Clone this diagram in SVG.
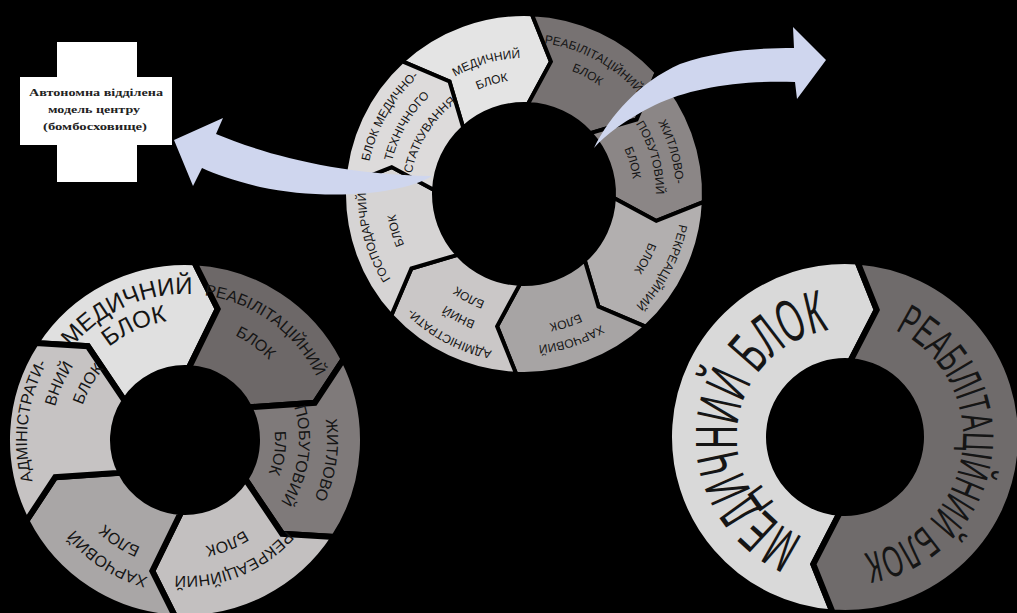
<svg xmlns="http://www.w3.org/2000/svg" width="1017" height="613" viewBox="0 0 1017 613">
<style>
.seg{stroke:#000;stroke-width:4;stroke-linejoin:miter}
.segw{stroke:#000;stroke-width:6;stroke-linejoin:miter}
.t{font-family:"Liberation Sans Narrow","Liberation Sans",Arial,sans-serif;fill:#151515;text-anchor:middle}
.f12{font-size:12px}
.f16{font-size:16px}
.f24{font-size:24px}
.arrow{fill:#cfd6ee}
.cap{font-family:"Liberation Serif","Times New Roman",serif;font-weight:bold;font-size:10px;fill:#222;text-anchor:middle}
</style>
<defs>
<path id="seg8" d="M0,-180 A180,180 0 0 1 127.28,-127.28 L109.22,-79.35 L63.64,-63.64 A90,90 0 0 0 0,-90 L21.12,-133.34 Z"/>
<path id="seg6" d="M0,-178 A178,178 0 0 1 154.15,-89 L127.64,-43.95 L62.35,-36 A72,72 0 0 0 0,-72 L25.76,-132.52 Z"/>
<path id="seg2" d="M0,-176 A176,176 0 0 1 0,176 L-22.75,129.01 L0,76 A76,76 0 0 0 0,-76 L22.75,-129.01 Z"/>
<path id="a90" d="M-90,0 A90,90 0 0 1 90,0"/>
<path id="a108" d="M-108,0 A108,108 0 0 1 108,0"/>
<path id="a110" d="M-110,0 A110,110 0 0 1 110,0"/>
<path id="a114" d="M-114,0 A114,114 0 0 1 114,0"/>
<path id="a116" d="M-116,0 A116,116 0 0 1 116,0"/>
<path id="a118" d="M-118,0 A118,118 0 0 1 118,0"/>
<path id="a120" d="M-120,0 A120,120 0 0 1 120,0"/>
<path id="a130" d="M-130,0 A130,130 0 0 1 130,0"/>
<path id="a132" d="M-132,0 A132,132 0 0 1 132,0"/>
<path id="a134" d="M-134,0 A134,134 0 0 1 134,0"/>
<path id="a136" d="M-136,0 A136,136 0 0 1 136,0"/>
<path id="a142" d="M-142,0 A142,142 0 0 1 142,0"/>
<path id="a146" d="M-146,0 A146,146 0 0 1 146,0"/>
<path id="a152" d="M-152,0 A152,152 0 0 1 152,0"/>
<path id="a158" d="M-158,0 A158,158 0 0 1 158,0"/>
<path id="a160" d="M-160,0 A160,160 0 0 1 160,0"/>
</defs>
<rect width="1017" height="613" fill="#000"/>

<!-- Top ring, centre (524,194) -->
<g id="top-ring">
<g id="top-medical">
<use href="#seg8" class="seg" fill="#e4e4e4" transform="translate(524,194) rotate(-42.5)"/>
<g transform="translate(524,194) rotate(-16)"><text class="t f12"><textPath href="#a136" startOffset="50%">МЕДИЧНИЙ</textPath></text><text class="t f12"><textPath href="#a114" startOffset="50%">БЛОК</textPath></text></g>
</g>
<g id="top-rehab">
<use href="#seg8" class="seg" fill="#777272" transform="translate(524,194) rotate(2.5)"/>
<g transform="translate(524,194) rotate(28)"><text class="t f12"><textPath href="#a152" startOffset="50%">РЕАБІЛІТАЦІЙНИЙ</textPath></text><text class="t f12"><textPath href="#a132" startOffset="50%">БЛОК</textPath></text></g>
</g>
<g id="top-housing">
<use href="#seg8" class="seg" fill="#8b8686" transform="translate(524,194) rotate(47.5)"/>
<g transform="translate(524,194) rotate(74)"><text class="t f12"><textPath href="#a152" startOffset="50%">ЖИТЛОВО-</textPath></text><text class="t f12"><textPath href="#a132" startOffset="50%">ПОБУТОВИЙ</textPath></text><text class="t f12"><textPath href="#a110" startOffset="50%">БЛОК</textPath></text></g>
</g>
<g id="top-recreation">
<use href="#seg8" class="seg" fill="#b2afaf" transform="translate(524,194) rotate(92.5)"/>
<g transform="translate(524,194) rotate(118)"><text class="t f12"><textPath href="#a158" startOffset="50%">РЕКРЕАЦІЙНИЙ</textPath></text><text class="t f12"><textPath href="#a134" startOffset="50%">БЛОК</textPath></text></g>
</g>
<g id="top-food">
<use href="#seg8" class="seg" fill="#a7a4a4" transform="translate(524,194) rotate(137.5)"/>
<g transform="translate(524,194) rotate(162)"><text class="t f12"><textPath href="#a152" startOffset="50%">ХАРЧОВИЙ</textPath></text><text class="t f12"><textPath href="#a132" startOffset="50%">БЛОК</textPath></text></g>
</g>
<g id="top-admin">
<use href="#seg8" class="seg" fill="#cac7c7" transform="translate(524,194) rotate(182.5)"/>
<g transform="translate(524,194) rotate(208)"><text class="t f12"><textPath href="#a160" startOffset="50%">АДМІНІСТРАТИ-</textPath></text><text class="t f12"><textPath href="#a136" startOffset="50%">ВНИЙ</textPath></text><text class="t f12"><textPath href="#a114" startOffset="50%">БЛОК</textPath></text></g>
</g>
<g id="top-household">
<use href="#seg8" class="seg" fill="#d6d4d4" transform="translate(524,194) rotate(227.5)"/>
<g transform="translate(524,194) rotate(254)"><text class="t f12"><textPath href="#a158" startOffset="50%">ГОСПОДАРЧИЙ</textPath></text><text class="t f12"><textPath href="#a130" startOffset="50%">БЛОК</textPath></text></g>
</g>
<g id="top-medtech">
<use href="#seg8" class="seg" fill="#dddbdb" transform="translate(524,194) rotate(272.5)"/>
<g transform="translate(524,194) rotate(300)"><text class="t f12"><textPath href="#a158" startOffset="50%">БЛОК МЕДИЧНО-</textPath></text><text class="t f12"><textPath href="#a136" startOffset="50%">ТЕХНІЧНОГО</textPath></text><text class="t f12"><textPath href="#a114" startOffset="50%">УСТАТКУВАННЯ</textPath></text></g>
</g>
</g>

<!-- Bottom-left ring, centre (185,440) -->
<g id="left-ring">
<g id="left-medical">
<use href="#seg6" class="segw" fill="#e0e0e0" transform="translate(185,440) rotate(-57)"/>
<g transform="translate(185,440) rotate(-24)"><text class="t f24"><textPath href="#a146" startOffset="50%">МЕДИЧНИЙ</textPath></text><text class="t f24"><textPath href="#a120" startOffset="50%">БЛОК</textPath></text></g>
</g>
<g id="left-rehab">
<use href="#seg6" class="segw" fill="#6d6868" transform="translate(185,440) rotate(3)"/>
<g transform="translate(185,440) rotate(36)"><text class="t f16"><textPath href="#a146" startOffset="50%">РЕАБІЛІТАЦІЙНИЙ</textPath></text><text class="t f16"><textPath href="#a116" startOffset="50%">БЛОК</textPath></text></g>
</g>
<g id="left-housing">
<use href="#seg6" class="segw" fill="#7f7a7a" transform="translate(185,440) rotate(63)"/>
<g transform="translate(185,440) rotate(98)"><text class="t f16"><textPath href="#a142" startOffset="50%">ЖИТЛОВО</textPath></text><text class="t f16"><textPath href="#a114" startOffset="50%">ПОБУТОВИЙ</textPath></text><text class="t f16"><textPath href="#a90" startOffset="50%">БЛОК</textPath></text></g>
</g>
<g id="left-recreation">
<use href="#seg6" class="segw" fill="#c3c0c0" transform="translate(185,440) rotate(123)"/>
<g transform="translate(185,440) rotate(158)"><text class="t f16"><textPath href="#a136" startOffset="50%">РЕКРЕАЦІЙНИЙ</textPath></text><text class="t f16"><textPath href="#a108" startOffset="50%">БЛОК</textPath></text></g>
</g>
<g id="left-food">
<use href="#seg6" class="segw" fill="#a9a6a6" transform="translate(185,440) rotate(183)"/>
<g transform="translate(185,440) rotate(213)"><text class="t f16"><textPath href="#a142" startOffset="50%">ХАРЧОВИЙ</textPath></text><text class="t f16"><textPath href="#a116" startOffset="50%">БЛОК</textPath></text></g>
</g>
<g id="left-admin">
<use href="#seg6" class="segw" fill="#c6c3c3" transform="translate(185,440) rotate(243)"/>
<g transform="translate(185,440) rotate(277)"><text class="t f16"><textPath href="#a158" startOffset="50%">АДМІНІСТРАТИ-</textPath></text></g>
<g transform="translate(185,440) rotate(294)"><text class="t f16"><textPath href="#a134" startOffset="50%">ВНИЙ</textPath></text></g>
<g transform="translate(185,440) rotate(300)"><text class="t f16"><textPath href="#a108" startOffset="50%">БЛОК</textPath></text></g>
</g>
</g>

<!-- Bottom-right ring, centre (845,437) -->
<g id="right-ring">
<g id="right-medical">
<use href="#seg2" class="segw" fill="#d9d9d9" transform="translate(845,437) rotate(184)"/>
<g transform="translate(845,437) rotate(277)"><text class="t" style="font-size:60px"><textPath href="#a108" startOffset="50%" textLength="280" lengthAdjust="spacingAndGlyphs">МЕДИЧНИЙ БЛОК</textPath></text></g>
</g>
<g id="right-rehab">
<use href="#seg2" class="segw" fill="#6f6b6b" transform="translate(845,437) rotate(4)"/>
<g transform="translate(845,437) rotate(98)"><text class="t" style="font-size:44px"><textPath href="#a118" startOffset="50%" textLength="300" lengthAdjust="spacingAndGlyphs">РЕАБІЛІТАЦІЙНИЙ БЛОК</textPath></text></g>
</g>
</g>

<!-- Cross node -->
<g id="cross">
<path d="M57,42 H137 V77 H172 V145 H137 V182 H57 V145 H20 V77 H57 Z" fill="#fff"/>
<text class="cap" x="96" y="96" textLength="134" lengthAdjust="spacingAndGlyphs">Автономна відділена</text>
<text class="cap" x="94" y="113" textLength="92" lengthAdjust="spacingAndGlyphs">модель центру</text>
<text class="cap" x="95" y="130" textLength="104" lengthAdjust="spacingAndGlyphs">(бомбосховище)</text>
</g>

<!-- Connectors -->
<g id="connectors">
<path class="arrow" d="M174,140 L223,118 L216,134 C260,152 330,174 432,176 C400,196 320,200 260,187 C235,181 215,174 202,168 L193,186 Z"/>
<path class="arrow" d="M826,60 L797,99 L795,82 C740,80 690,88 655,105 C625,120 605,135 594,148 C610,115 640,82 680,64 C720,50 760,48 794,48 L793,27 Z"/>
</g>
</svg>
